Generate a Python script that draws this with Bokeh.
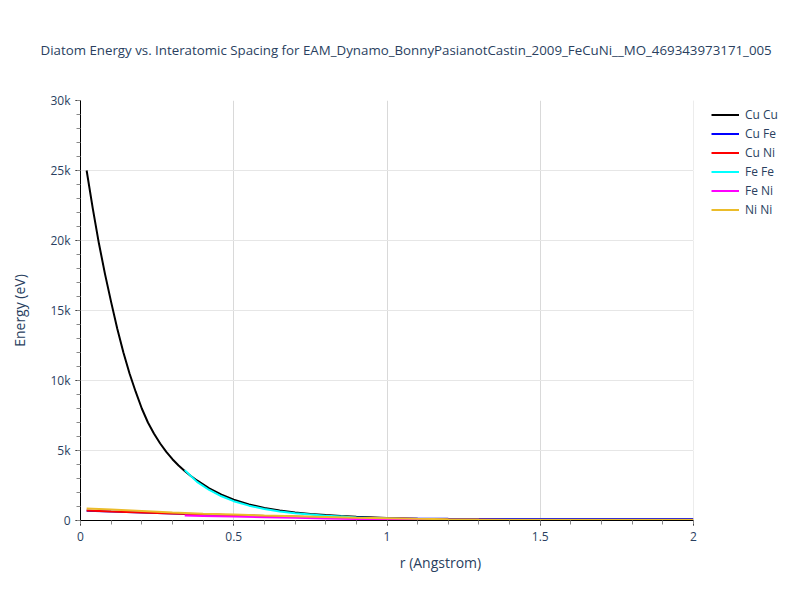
from bokeh.plotting import figure
from bokeh.models import (Range1d, SingleIntervalTicker, CustomJSTickFormatter,
                          Legend, LegendItem, Title, BoxAnnotation)
from bokeh.embed import file_html
from bokeh.resources import INLINE

TITLE = "Diatom Energy vs. Interatomic Spacing for EAM_Dynamo_BonnyPasianotCastin_2009_FeCuNi__MO_469343973171_005"

# ---- data ----
r_cucu = [0.02, 0.04, 0.06, 0.08, 0.10, 0.12, 0.14, 0.16, 0.18, 0.20, 0.22, 0.24, 0.26, 0.28,
          0.30, 0.32, 0.34, 0.36, 0.38, 0.42, 0.46, 0.50, 0.55, 0.60, 0.65, 0.70, 0.75, 0.80,
          0.85, 0.90, 1.00, 1.10, 1.20, 1.30, 1.40, 1.60, 1.80, 2.00]
e_cucu = [25000, 22300, 19800, 17600, 15600, 13700, 12000, 10500, 9200, 8000, 7000, 6200, 5500, 4900,
          4380, 3930, 3540, 3180, 2860, 2300, 1850, 1480, 1150, 900, 720, 580, 470, 390,
          320, 260, 170, 110, 70, 45, 30, 12, 5, 0]

r_cufe = [0.02, 0.10, 0.20, 0.30, 0.40, 0.50, 0.60, 0.70, 0.80, 0.90, 1.00, 1.10, 1.20, 1.30,
          1.40, 1.60, 1.80, 2.00]
e_cufe = [700, 640, 570, 495, 435, 375, 320, 270, 225, 190, 160, 135, 120, 110,
          105, 100, 100, 100]

r_cuni = [0.02, 0.10, 0.20, 0.30, 0.40, 0.50, 0.60, 0.70, 0.80, 0.90, 1.00, 1.10, 1.20, 1.30,
          1.40, 1.60, 1.80, 2.00]
e_cuni = [710, 650, 580, 500, 440, 380, 320, 270, 220, 180, 140, 110, 80, 60,
          40, 20, 5, 0]

r_fefe = [0.34, 0.38, 0.42, 0.46, 0.50, 0.55, 0.60, 0.65, 0.70, 0.75, 0.80, 0.85, 0.90, 1.00,
          1.10, 1.20, 1.30, 1.40, 1.60, 1.80, 2.00]
e_fefe = [3600, 2760, 2180, 1730, 1380, 1060, 820, 650, 520, 420, 340, 280, 220, 140,
          80, 40, 15, 0, 0, 0, 0]

r_feni = [0.34, 0.40, 0.50, 0.60, 0.70, 0.80, 0.90, 1.00, 1.20, 1.40, 1.60, 1.80, 2.00]
e_feni = [360, 330, 290, 240, 190, 150, 110, 80, 40, 20, 5, 0, 0]

r_nini = [0.02, 0.10, 0.20, 0.30, 0.40, 0.50, 0.60, 0.70, 0.80, 0.90, 1.00, 1.10, 1.20, 1.30,
          1.40, 1.60, 1.80, 2.00]
e_nini = [860, 780, 680, 580, 490, 420, 350, 300, 250, 200, 160, 120, 90, 70,
          60, 50, 50, 50]

series = [
    ("Cu Cu", r_cucu, e_cucu, "#000000"),
    ("Cu Fe", r_cufe, e_cufe, "#0000ff"),
    ("Cu Ni", r_cuni, e_cuni, "#ff0000"),
    ("Fe Fe", r_fefe, e_fefe, "#00ffff"),
    ("Fe Ni", r_feni, e_feni, "#ff00ff"),
    ("Ni Ni", r_nini, e_nini, "#ebbc2a"),
]

x_min, x_max = 0.0, 2.0
y_min, y_max = 0, 30000
x_ticks_interval = 0.5
y_ticks_interval = 5000

FONT = "Open Sans"
TXT = "#2a3f5f"

# frame extends to the right edge so the legend can sit inside it; data area is 0..2
FRAME_W = 720
DATA_W = 613
p = figure(width=800, height=600, output_backend="svg", toolbar_location=None,
           x_range=Range1d(x_min, x_max * FRAME_W / DATA_W), y_range=Range1d(y_min, y_max),
           min_border_left=80, min_border_right=0, min_border_top=100, min_border_bottom=80)
p.outline_line_color = None
p.background_fill_color = "white"
p.border_fill_color = "white"

items = []
for name, xs, ys, col in series:
    rr = p.line(xs, ys, line_color=col, line_width=2)
    items.append(LegendItem(label=name, renderers=[rr]))

p.xaxis.ticker = SingleIntervalTicker(interval=x_ticks_interval, num_minor_ticks=5)
p.yaxis.ticker = SingleIntervalTicker(interval=y_ticks_interval, num_minor_ticks=5)
p.yaxis.formatter = CustomJSTickFormatter(code="return tick == 0 ? '0' : (tick/1000) + 'k';")
p.xaxis.bounds = (x_min, x_max)

for ax in (p.xaxis[0], p.yaxis[0]):
    ax.axis_line_color = "black"
    ax.axis_line_width = 1
    ax.major_tick_line_color = "black"
    ax.minor_tick_line_color = "#888888"
    ax.major_tick_out = 5
    ax.major_tick_in = 0
    ax.minor_tick_out = 4
    ax.minor_tick_in = 0
    ax.major_label_text_font = FONT
    ax.major_label_text_font_size = "12px"
    ax.major_label_text_color = TXT
    ax.axis_label_text_font = FONT
    ax.axis_label_text_font_size = "14px"
    ax.axis_label_text_color = TXT
    ax.axis_label_text_font_style = "normal"

p.xaxis.axis_label = "r (Angstrom)"
p.yaxis.axis_label = "Energy (eV)"
p.xaxis.major_label_standoff = 6
p.xaxis.axis_label_standoff = 9
p.yaxis.major_label_standoff = 5
p.yaxis.axis_label_standoff = 18

p.xgrid.grid_line_color = "#d9d9d9"
p.ygrid.grid_line_color = "#e6e6e6"
p.xgrid.grid_line_width = 1
p.ygrid.grid_line_width = 1
p.xgrid.bounds = (x_min, x_max)

# white cover for the area right of the data region (legend area)
cover = BoxAnnotation(left=x_max, fill_color="white", fill_alpha=1.0, line_color=None,
                      level="annotation")
p.add_layout(cover)

legend = Legend(items=items, location=(631, 301), padding=5, spacing=0, margin=0,
                glyph_width=28, glyph_height=19, label_height=19, label_standoff=6,
                label_text_font=FONT, label_text_font_size="12px", label_text_color=TXT,
                border_line_color=None, background_fill_alpha=0)
p.add_layout(legend)

title = Title(text=TITLE, align="left", offset=-40, standoff=80, vertical_align="top",
              text_font=FONT, text_font_size="13.3px", text_color=TXT,
              text_font_style="normal")
p.add_layout(title, "above")

open("out.html", "w").write(file_html(p, INLINE))
